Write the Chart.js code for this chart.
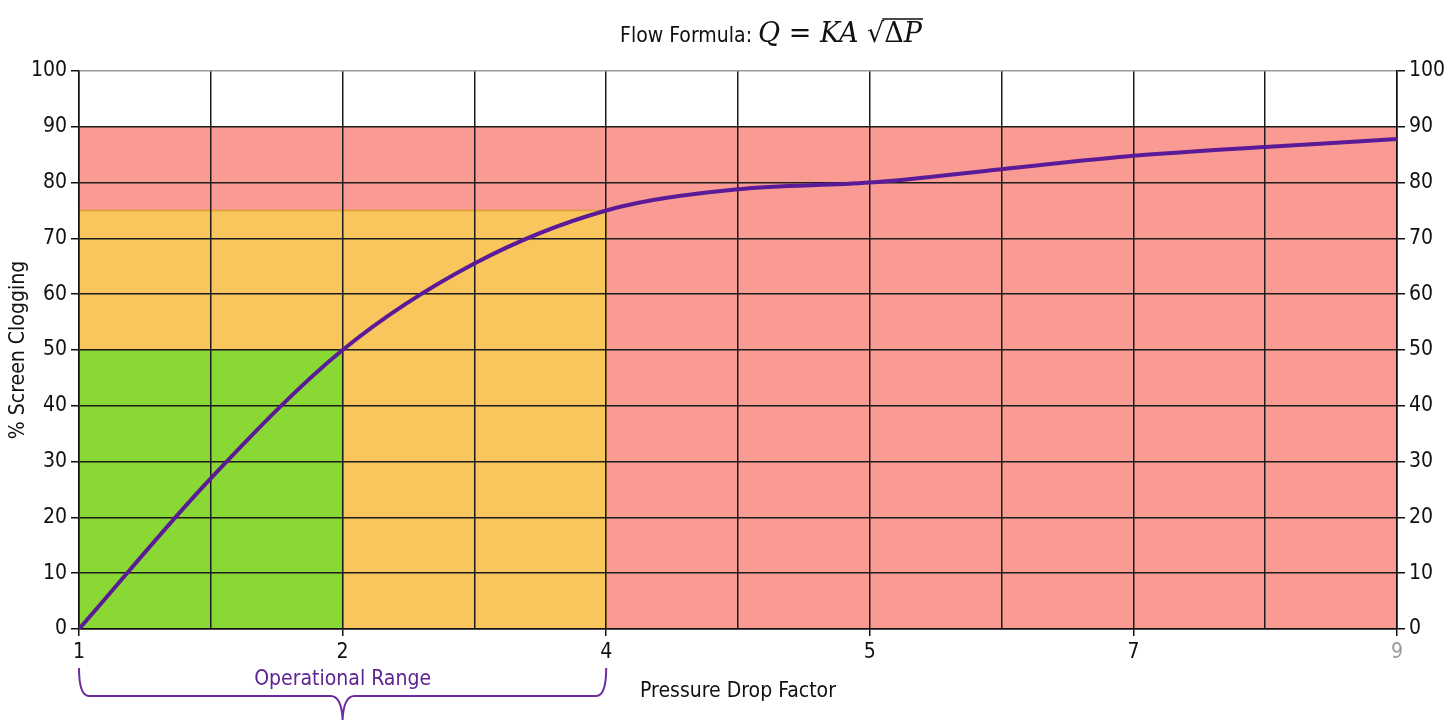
<!DOCTYPE html>
<html><head><meta charset="utf-8">
<script src="https://cdn.jsdelivr.net/npm/chart.js@4"></script>
<style>html,body{margin:0;padding:0;background:#fff;overflow:hidden}#wrap{width:1456px;height:720px}</style>
</head><body><div id="wrap"><canvas id="c" width="1456" height="720"></canvas></div>
<script>
// ---------- data ----------
const xPositions = [0,1,2,3,4,5,6,7,8,9,10];
const xTickLabels = ['1','','2','','4','','5','','7','','9'];
const clogging = [0,27,50,65.5,75,78.8,80,82.4,84.8,86.4,87.8];
const zoneNames = ['Critical','Caution','Normal'];
const zoneXEnd = [10,4,2];
const zoneYTop = [90,75,50];
const zoneFill = ['#fa9b93','#f8c65c','#8ad833'];
const zoneEdge = ['#fa9b93','#d9a036','#6fbb2a'];
const operationalRange = [0,4];
const bracketLabel = 'Operational Range';
const titleLead = 'Flow Formula: ';

// ---------- font pick ----------
function pickFont(cands){
  const c=document.createElement('canvas').getContext('2d');
  const s='Pressure Drop Factor 0123';
  c.font='40px monospace'; const m=c.measureText(s).width;
  for(const f of cands){ c.font='40px "'+f+'", monospace'; if(Math.abs(c.measureText(s).width-m)>1) return f; }
  return 'sans-serif';
}
const FAM0 = pickFont(['Liberation Sans Narrow','DejaVu Sans Condensed','Roboto Condensed','Liberation Sans']);
const FAM = '"'+FAM0+'", sans-serif';
const mctx=document.createElement('canvas').getContext('2d');
mctx.font='24px '+FAM;
let S = 24*196/mctx.measureText('Pressure Drop Factor').width;
S = Math.max(18, Math.min(26, S));
const font = {family:FAM, size:S};

const zonesPlugin = {
  id:'zones',
  beforeDraw(chart){
    const {ctx, scales:{x,y}} = chart;
    ctx.save();
    for(let i=0;i<zoneNames.length;i++){
      const x0=x.getPixelForValue(0), x1=x.getPixelForValue(zoneXEnd[i]);
      const y0=y.getPixelForValue(0), y1=y.getPixelForValue(zoneYTop[i]);
      ctx.fillStyle=zoneFill[i];
      ctx.fillRect(x0,y1,x1-x0,y0-y1);
      ctx.strokeStyle=zoneEdge[i]; ctx.lineWidth=1.5;
      ctx.beginPath(); ctx.moveTo(x0,y1); ctx.lineTo(x1,y1); ctx.lineTo(x1,y0); ctx.stroke();
    }
    ctx.restore();
  }
};

const annPlugin = {
  id:'ann',
  afterDraw(chart){
    const {ctx, scales:{x}} = chart;
    ctx.save();
    // bracket
    const x0=x.getPixelForValue(operationalRange[0]), x1=x.getPixelForValue(operationalRange[1]);
    const xm=(x0+x1)/2, yt=668, yh=696, yb=720;
    ctx.strokeStyle='#6a2ca0'; ctx.lineWidth=2;
    ctx.beginPath();
    ctx.moveTo(x0,yt); ctx.quadraticCurveTo(x0,yh,x0+10,yh);
    ctx.lineTo(xm-12,yh); ctx.quadraticCurveTo(xm-1,yh,xm,yb);
    ctx.moveTo(xm,yb); ctx.quadraticCurveTo(xm+1,yh,xm+12,yh);
    ctx.lineTo(x1-10,yh); ctx.quadraticCurveTo(x1,yh,x1,yt);
    ctx.stroke();
    ctx.fillStyle='#5f2492'; ctx.font=S+'px '+FAM; ctx.textAlign='center'; ctx.textBaseline='middle';
    ctx.fillText(bracketLabel, xm, 680);
    // title
    const serif='"DejaVu Serif", "Liberation Serif", serif';
    const parts=[
      {t:titleLead, f:S+'px '+FAM},
      {t:'Q', f:'italic 27px '+serif},
      {t:' = ', f:'27px '+serif},
      {t:'KA', f:'italic 27px '+serif},
      {t:' \u221A', f:'27px '+serif},
      {t:'\u0394', f:'27px '+serif, over:true},
      {t:'P', f:'italic 27px '+serif, over:true}
    ];
    let w=0; for(const p of parts){ctx.font=p.f; p.w=ctx.measureText(p.t).width; w+=p.w;}
    let cx=771-w/2; const by=42;
    ctx.fillStyle='#111'; ctx.textAlign='left'; ctx.textBaseline='alphabetic';
    let ox0=null, ox1=null;
    for(const p of parts){ ctx.font=p.f; ctx.fillText(p.t,cx,by); if(p.over){ if(ox0===null) ox0=cx; ox1=cx+p.w; } cx+=p.w; }
    ctx.strokeStyle='#111'; ctx.lineWidth=1.4;
    ctx.beginPath(); ctx.moveTo(ox0-2,by-23); ctx.lineTo(ox1+1,by-23); ctx.stroke();
    ctx.restore();
  }
};

const gridCol='#1c1c1c';
new Chart(document.getElementById('c'),{
  type:'line',
  data:{datasets:[{
    label:'% Screen Clogging',
    data:xPositions.map((v,i)=>({x:v,y:clogging[i]})),
    borderColor:'#5b1a98', borderWidth:4, pointRadius:0,
    cubicInterpolationMode:'monotone', fill:false
  }]},
  options:{
    responsive:false, animation:false, devicePixelRatio:1,
    layout:{padding:{top:71,left:0,right:0,bottom:0}},
    plugins:{legend:{display:false}, tooltip:{enabled:false}, title:{display:false}},
    scales:{
      x:{type:'linear', min:0, max:10,
        afterFit(s){s.height=91;},
        ticks:{stepSize:1, autoSkip:false, maxRotation:0, padding:4, font,
          callback:(v)=>xTickLabels[Math.round(v)]||'',
          color:(c)=>c.index===10?'#9a9a9a':'#111'},
        grid:{color:gridCol, lineWidth:1.5, tickLength:7,
          tickColor:(c)=>(c.tick && xTickLabels[Math.round(c.tick.value)])?'#111':'rgba(0,0,0,0)'},
        border:{color:'#111', width:1.5},
        title:{display:true, text:'Pressure Drop Factor', color:'#111', font, padding:{top:4,bottom:16}}
      },
      y:{type:'linear', position:'left', min:0, max:100,
        afterFit(s){s.width=79;},
        ticks:{stepSize:10, padding:4, color:'#111', font},
        grid:{color:(c)=>c.tick&&c.tick.value===100?'#9a9a9a':gridCol, lineWidth:1.5, tickLength:8, tickColor:'#111'},
        border:{color:'#111', width:1.5},
        title:{display:true, text:'% Screen Clogging', color:'#111', font, padding:{top:6,bottom:0}}
      },
      y2:{type:'linear', position:'right', min:0, max:100,
        afterFit(s){s.width=59;},
        ticks:{stepSize:10, padding:4, color:'#111', font},
        grid:{drawOnChartArea:false, tickLength:8, tickColor:'#111', lineWidth:1.5},
        border:{color:'#111', width:1.5}
      }
    }
  },
  plugins:[zonesPlugin, annPlugin]
});
</script></body></html>
